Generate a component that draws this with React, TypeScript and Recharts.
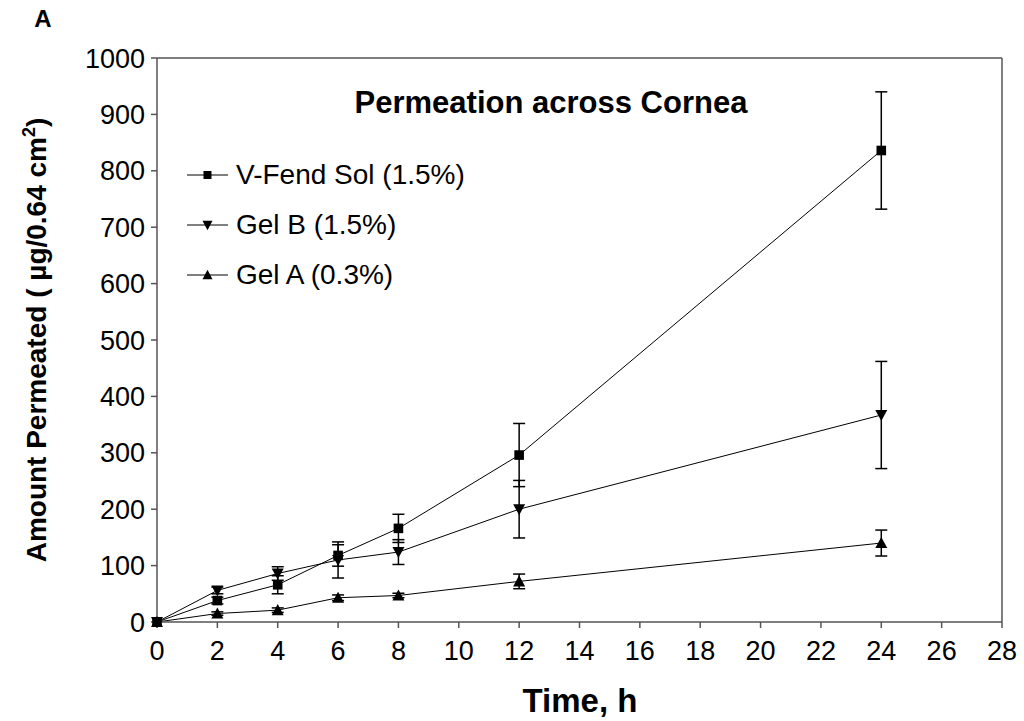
import React from "react";
import {
  LineChart,
  Line,
  XAxis,
  YAxis,
  ErrorBar,
  Legend,
  ReferenceLine,
  Label,
} from "recharts";

const time = [0, 2, 4, 6, 8, 12, 24];
const vFendSol = [0, 38, 66, 118, 166, 296, 836];
const vFendSolErr = [0, 6, 16, 19, 25, 56, 104];
const gelB = [0, 56, 86, 110, 124, 200, 367];
const gelBErr = [0, 6, 12, 32, 22, 51, 95];
const gelA = [0, 15, 21, 43, 47, 72, 140];
const gelAErr = [0, 3, 4, 5, 4, 13, 23];

const xTicks = [0, 2, 4, 6, 8, 10, 12, 14, 16, 18, 20, 22, 24, 26, 28];
const yTicks = [0, 100, 200, 300, 400, 500, 600, 700, 800, 900, 1000];

const series = [
  { key: "vfend", name: "V-Fend Sol (1.5%)", shape: "square" },
  { key: "gelB", name: "Gel B (1.5%)", shape: "down" },
  { key: "gelA", name: "Gel A (0.3%)", shape: "up" },
];

const data = time.map((t, i) => ({
  t,
  vfend: vFendSol[i],
  vfendErr: vFendSolErr[i],
  gelB: gelB[i],
  gelBErr: gelBErr[i],
  gelA: gelA[i],
  gelAErr: gelAErr[i],
}));

const FONT = "'Liberation Sans', Arial, sans-serif";
const AXIS = "#555";

const Marker = ({ shape, cx, cy, s }: { shape: string; cx: number; cy: number; s: number }) => {
  if (shape === "square") {
    const h = s * 0.8;
    return <rect x={cx - h / 2} y={cy - h / 2} width={h} height={h} fill="#000" />;
  }
  const w = s / 2;
  const h = s * 0.42;
  if (shape === "down") {
    return <polygon points={`${cx - w},${cy - h} ${cx + w},${cy - h} ${cx},${cy + h + 1}`} fill="#000" />;
  }
  return <polygon points={`${cx - w},${cy + h} ${cx + w},${cy + h} ${cx},${cy - h - 1}`} fill="#000" />;
};

const makeDot = (shape: string) => (props: any) => (
  <g key={`${shape}-${props.index}`}>
    <Marker shape={shape} cx={props.cx} cy={props.cy} s={12} />
  </g>
);

const LegendBox = () => (
  <div style={{ fontFamily: FONT, fontSize: 28, color: "#000" }}>
    {series.map((s) => (
      <div key={s.key} style={{ display: "flex", alignItems: "center", height: 50 }}>
        <svg width={41} height={20} style={{ marginRight: 8 }}>
          <line x1={0} y1={10} x2={41} y2={10} stroke="#000" strokeWidth={1} />
          <Marker shape={s.shape} cx={20.5} cy={10} s={10} />
        </svg>
        <span style={{ lineHeight: "50px", whiteSpace: "nowrap" }}>{s.name}</span>
      </div>
    ))}
  </div>
);

const YTitle = () => (
  <text
    transform="rotate(-90)"
    x={-340}
    y={46}
    textAnchor="middle"
    fontFamily={FONT}
    fontSize={28}
    fontWeight="bold"
    fill="#000"
  >
    Amount Permeated ( µg/0.64 cm
    <tspan fontSize={18} dy={-11}>2</tspan>
    <tspan dy={11}>)</tspan>
  </text>
);

const XTitle = () => (
  <text x={580} y={712} textAnchor="middle" fontFamily={FONT} fontSize={33} fontWeight="bold" fill="#000">
    Time, h
  </text>
);

export default function App() {
  return (
    <div style={{ position: "absolute", left: 0, top: 0, width: 1024, height: 721, background: "#fff" }}>
      <LineChart
        width={1024}
        height={721}
        data={data}
        margin={{ top: 58, right: 22, left: 77, bottom: 39 }}
      >
        <XAxis
          dataKey="t"
          type="number"
          domain={[0, 28]}
          ticks={xTicks}
          interval={0}
          height={60}
          stroke={AXIS}
          strokeWidth={1.5}
          tickSize={6}
          tickMargin={13}
          tick={{ fill: "#000", fontSize: 27, fontFamily: FONT }}
        >
          <Label content={<XTitle />} />
        </XAxis>
        <YAxis
          type="number"
          domain={[0, 1000]}
          ticks={yTicks}
          interval={0}
          width={80}
          stroke={AXIS}
          strokeWidth={1.5}
          tickSize={6}
          tickMargin={6}
          tick={{ fill: "#000", fontSize: 27, fontFamily: FONT }}
        >
          <Label content={<YTitle />} />
        </YAxis>
        <ReferenceLine y={1000} stroke={AXIS} strokeWidth={1.5} />
        <ReferenceLine x={28} stroke={AXIS} strokeWidth={1.5} />
        <Legend
          layout="vertical"
          align="center"
          verticalAlign="middle"
          content={<LegendBox />}
          wrapperStyle={{ left: 187, top: 150, width: 300 }}
        />
        {series.map((s) => (
          <Line
            key={s.key}
            dataKey={s.key}
            name={s.name}
            stroke="#000"
            strokeWidth={1}
            dot={makeDot(s.shape)}
            activeDot={false}
            isAnimationActive={false}
          >
            <ErrorBar dataKey={`${s.key}Err`} direction="y" width={6} stroke="#000" strokeWidth={1.5} />
          </Line>
        ))}
      </LineChart>
      <svg
        width={1024}
        height={721}
        style={{ position: "absolute", left: 0, top: 0, pointerEvents: "none" }}
      >
        <text x={43} y={27} textAnchor="middle" fontFamily={FONT} fontSize={24} fontWeight="bold">
          A
        </text>
        <text x={551} y={113} textAnchor="middle" fontFamily={FONT} fontSize={31} fontWeight="bold">
          Permeation across Cornea
        </text>
      </svg>
    </div>
  );
}
